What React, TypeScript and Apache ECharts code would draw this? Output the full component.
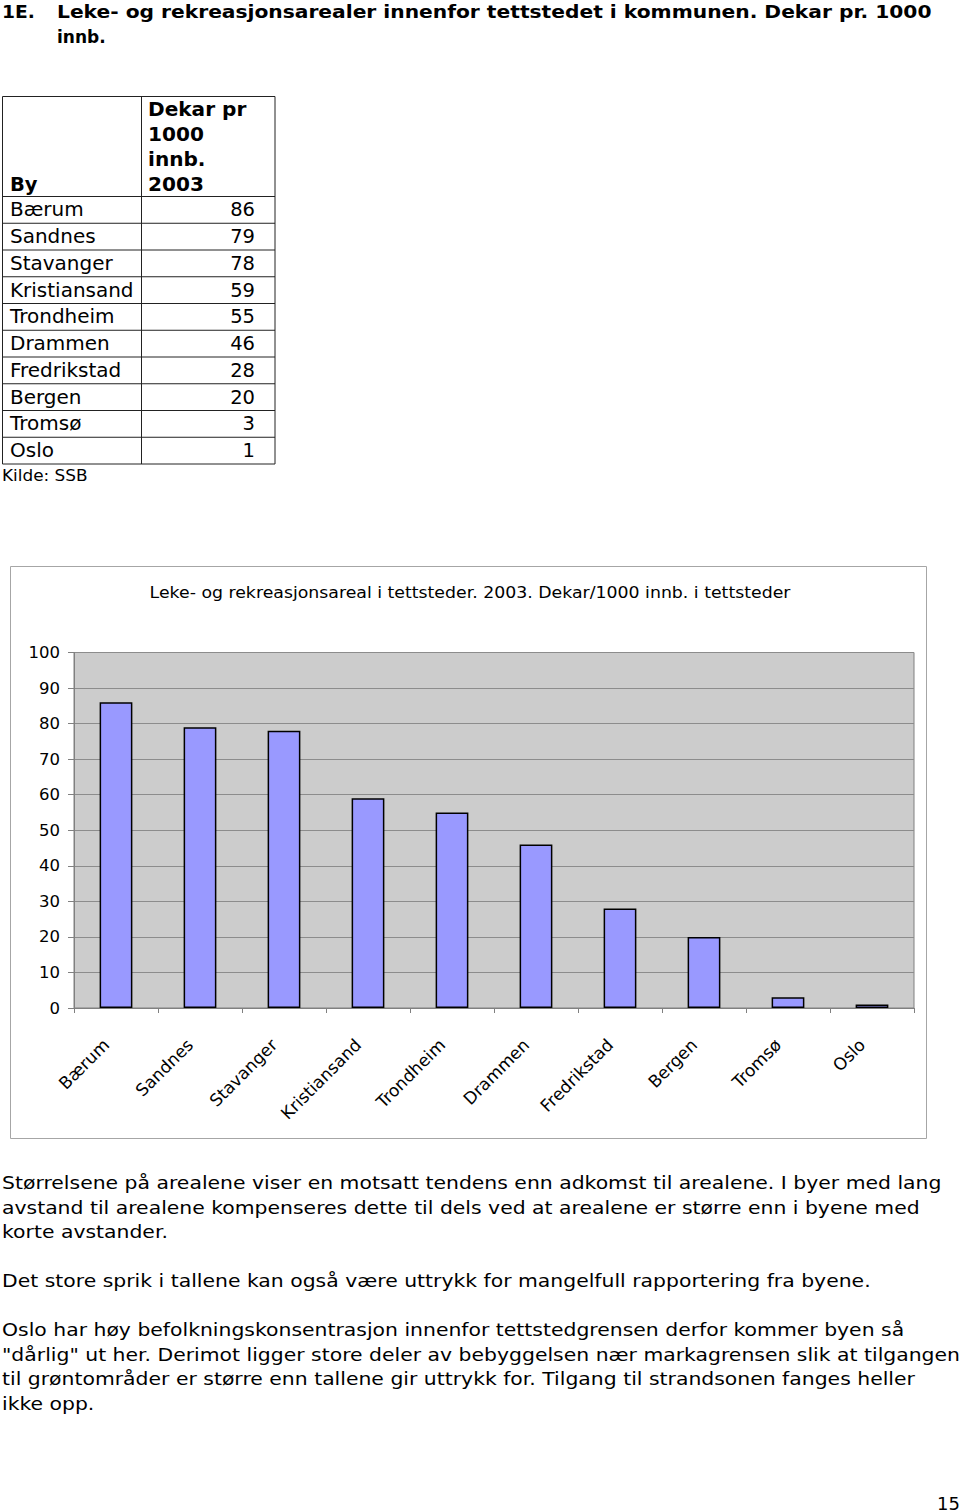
import React, { useEffect, useRef } from "react";
import * as echarts from "echarts";

// ---------- data ----------
const cities = ["Bærum", "Sandnes", "Stavanger", "Kristiansand", "Trondheim", "Drammen", "Fredrikstad", "Bergen", "Tromsø", "Oslo"];
const dekarPer1000 = [86, 79, 78, 59, 55, 46, 28, 20, 3, 1];
const yMin = 0;
const yMax = 100;
const yStep = 10;

const headingNumber = "1E.";
const headingLines = ["Leke- og rekreasjonsarealer innenfor tettstedet i kommunen. Dekar pr. 1000", "innb."];
const tableColHead = "By";
const tableValueHead = ["Dekar pr", "1000", "innb.", "2003"];
const sourceNote = "Kilde: SSB";
const chartTitle = "Leke- og rekreasjonsareal i tettsteder. 2003. Dekar/1000 innb. i tettsteder";
const paragraphs = [
  [
    "Størrelsene på arealene viser en motsatt tendens enn adkomst til arealene. I byer med lang",
    "avstand til arealene kompenseres dette til dels ved at arealene er større enn i byene med",
    "korte avstander.",
  ],
  ["Det store sprik i tallene kan også være uttrykk for mangelfull rapportering fra byene."],
  [
    "Oslo har høy befolkningskonsentrasjon innenfor tettstedgrensen derfor kommer byen så",
    "\"dårlig\" ut her. Derimot ligger store deler av bebyggelsen nær markagrensen slik at tilgangen",
    "til grøntområder er større enn tallene gir uttrykk for. Tilgang til strandsonen fanges heller",
    "ikke opp.",
  ],
];
const pageNumber = "15";

// ---------- styles ----------
const DOC_FONT = "DejaVu Sans";
const CHART_FONT = "'DejaVu Sans', sans-serif";

function txt(text: string, x: number, y: number, size: number, opts: any = {}) {
  return {
    type: "text",
    x,
    y,
    scaleX: opts.sx || 1,
    silent: true,
    style: {
      text,
      fontSize: size,
      fontFamily: opts.family || DOC_FONT,
      fontWeight: opts.bold ? "bold" : "normal",
      fill: "#000",
      textAlign: opts.align || "left",
      textVerticalAlign: "middle",
    },
  };
}

function hline(x1: number, x2: number, y: number, color = "#222", w = 1) {
  return { type: "line", silent: true, shape: { x1, y1: y, x2, y2: y }, style: { stroke: color, lineWidth: w } };
}
function vline(x: number, y1: number, y2: number, color = "#222", w = 1) {
  return { type: "line", silent: true, shape: { x1: x, y1, x2: x, y2 }, style: { stroke: color, lineWidth: w } };
}

function buildGraphics() {
  const g: any[] = [];
  // heading
  g.push(txt(headingNumber, 2, 12, 17, { bold: true, sx: 1.1 }));
  g.push(txt(headingLines[0], 57, 12, 17, { bold: true, sx: 1.19 }));
  g.push(txt(headingLines[1], 57, 36.5, 17, { bold: true }));

  // table
  const tL = 2.5, tM = 141.5, tR = 275, tTop = 96.5, headBottom = 196.5, rowH = 26.75;
  const tBottom = headBottom + rowH * cities.length;
  g.push(hline(tL, tR, tTop));
  g.push(hline(tL, tR, headBottom));
  for (let i = 1; i <= cities.length; i++) g.push(hline(tL, tR, headBottom + rowH * i));
  g.push(vline(tL, tTop, tBottom));
  g.push(vline(tM, tTop, tBottom));
  g.push(vline(tR, tTop, tBottom));
  tableValueHead.forEach((l, i) => g.push(txt(l, 148, 110 + i * 24.7, 19.5, { bold: true, sx: 1.03 })));
  g.push(txt(tableColHead, 10, 184, 19.5, { bold: true }));
  cities.forEach((c, i) => {
    const cy = headBottom + rowH * (i + 0.5);
    g.push(txt(c, 10, cy, 19.5, { sx: 1.025 }));
    g.push(txt(String(dekarPer1000[i]), 255, cy, 19.5, { align: "right" }));
  });
  g.push(txt(sourceNote, 2, 476, 15.5, { sx: 1.09 }));

  // chart frame + title
  g.push({
    type: "rect",
    silent: true,
    shape: { x: 10.5, y: 566.5, width: 916, height: 572 },
    style: { fill: "none", stroke: "#a6a6a6", lineWidth: 1 },
    z: -10,
  });
  g.push(txt(chartTitle, 470, 592, 16.5, { family: CHART_FONT, align: "center", sx: 1.05 }));

  // paragraphs
  let line = 0;
  paragraphs.forEach((p) => {
    p.forEach((l) => {
      g.push(txt(l, 2, 1183 + line * 24.55, 18, { sx: 1.132 }));
      line++;
    });
    line++;
  });

  g.push(txt(pageNumber, 960, 1503, 18, { align: "right" }));
  return g;
}

export default function App() {
  const ref = useRef<HTMLDivElement>(null);
  useEffect(() => {
    if (!ref.current) return;
    const chart = echarts.init(ref.current, null, { renderer: "svg" });
    chart.setOption({
      animation: false,
      backgroundColor: "#ffffff",
      textStyle: { fontFamily: CHART_FONT },
      graphic: { elements: buildGraphics() },
      grid: {
        left: 74,
        top: 652.5,
        right: 46,
        bottom: 504,
        show: true,
        backgroundColor: "#cccccc",
        borderColor: "#808080",
        borderWidth: 1,
        containLabel: false,
      },
      xAxis: {
        type: "category",
        data: cities,
        axisLine: { show: true, lineStyle: { color: "#808080", width: 1 } },
        axisTick: { show: true, alignWithLabel: false, length: 5, lineStyle: { color: "#808080" } },
        axisLabel: {
          rotate: 45,
          interval: 0,
          margin: 24,
          padding: [0, 14, 0, 0],
          fontSize: 17,
          color: "#000",
          fontFamily: CHART_FONT,
        },
        splitLine: { show: false },
      },
      yAxis: {
        type: "value",
        min: yMin,
        max: yMax,
        interval: yStep,
        axisLine: { show: true, lineStyle: { color: "#808080", width: 1 } },
        axisTick: { show: true, length: 6, lineStyle: { color: "#808080" } },
        axisLabel: { fontSize: 16.5, color: "#000", margin: 14, fontFamily: CHART_FONT },
        splitLine: { show: true, lineStyle: { color: "#8c8c8c", width: 1 } },
      },
      series: [
        {
          type: "bar",
          data: dekarPer1000,
          barWidth: "39%",
          itemStyle: { color: "#9999ff", borderColor: "#000000", borderWidth: 1.5 },
          silent: true,
        },
      ],
    });
    return () => chart.dispose();
  }, []);
  return (
    <div
      ref={ref}
      style={{ position: "absolute", left: 0, top: 0, width: 960, height: 1512, background: "#fff" }}
    />
  );
}
